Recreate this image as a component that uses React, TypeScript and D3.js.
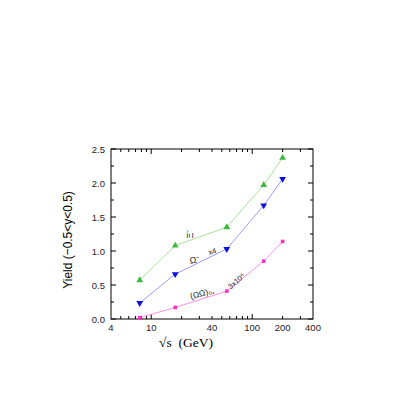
import React, { useEffect, useRef } from "react";
import * as d3 from "d3";

// data
const energies = [7.7, 17.3, 56, 130, 200];
const xiYield = [0.57, 1.08, 1.35, 1.97, 2.37];
const omegaYield = [0.235, 0.66, 1.03, 1.67, 2.06];
const omegaOmegaYield = [0.02, 0.17, 0.41, 0.85, 1.14];

const xTickLabels = [4, 10, 40, 100, 200, 400];
const xMinorTicks = [5, 6, 7, 8, 9, 20, 30, 50, 60, 70, 80, 90, 300];
const yTicks = [0, 0.5, 1, 1.5, 2, 2.5];
const yMinorTicks = [0.25, 0.75, 1.25, 1.75, 2.25];

const App = () => {
  const svgRef = useRef<SVGSVGElement>(null);

  useEffect(() => {
    const width = 402;
    const height = 402;
    const margin = { top: 149, right: 89, bottom: 83, left: 111 };

    const svg = d3.select(svgRef.current);
    svg.selectAll("*").remove();

    const x = d3
      .scaleLog()
      .domain([4, 400])
      .range([margin.left, width - margin.right]);
    const y = d3
      .scaleLinear()
      .domain([0, 2.5])
      .range([height - margin.bottom, margin.top]);

    const x0 = margin.left;
    const x1 = width - margin.right;
    const y0 = height - margin.bottom;
    const y1 = margin.top;

    const sans = "Liberation Sans, Arial, sans-serif";

    // frame
    svg
      .append("rect")
      .attr("x", x0)
      .attr("y", y1)
      .attr("width", x1 - x0)
      .attr("height", y0 - y1)
      .attr("fill", "none")
      .attr("stroke", "#000")
      .attr("stroke-width", 1);

    // ticks, pointing inward on all four sides
    const ticks = svg.append("g").attr("stroke", "#000").attr("stroke-width", 1);
    xTickLabels.concat(xMinorTicks).forEach((v) => {
      const major = v === 10 || v === 100;
      const len = major ? 5 : 3;
      const px = x(v);
      if (v === 4 || v === 400) return;
      ticks.append("line").attr("x1", px).attr("x2", px).attr("y1", y0).attr("y2", y0 - len);
      ticks.append("line").attr("x1", px).attr("x2", px).attr("y1", y1).attr("y2", y1 + len);
    });
    yTicks.concat(yMinorTicks).forEach((v) => {
      const major = yTicks.includes(v);
      const len = major ? 5 : 3;
      const py = y(v);
      ticks.append("line").attr("x1", x0).attr("x2", x0 + len).attr("y1", py).attr("y2", py);
      ticks.append("line").attr("x1", x1).attr("x2", x1 - len).attr("y1", py).attr("y2", py);
    });

    // tick labels
    svg
      .append("g")
      .selectAll("text")
      .data(xTickLabels)
      .enter()
      .append("text")
      .attr("x", (d) => x(d))
      .attr("y", y0 + 12)
      .attr("text-anchor", "middle")
      .attr("font-family", sans)
      .attr("font-size", 9.5)
      .attr("fill", "#222")
      .text((d) => String(d));

    svg
      .append("g")
      .selectAll("text")
      .data(yTicks)
      .enter()
      .append("text")
      .attr("x", x0 - 6)
      .attr("y", (d) => y(d) + 3.5)
      .attr("text-anchor", "end")
      .attr("font-family", sans)
      .attr("font-size", 9.5)
      .attr("fill", "#222")
      .text((d) => d.toFixed(1));

    // axis titles
    svg
      .append("text")
      .attr("x", 186)
      .attr("y", 347)
      .attr("text-anchor", "middle")
      .attr("font-family", "Liberation Serif, Times New Roman, serif")
      .attr("font-size", 13.5)
      .attr("xml:space", "preserve")
      .text("\u221As  (GeV)");

    svg
      .append("text")
      .attr("transform", `translate(72,${(y0 + y1) / 2 + 6}) rotate(-90) scale(0.92,1)`)
      .attr("text-anchor", "middle")
      .attr("font-family", sans)
      .attr("font-size", 13)
      .text("Yield (\u22120.5<y<0.5)");

    const series = [
      { values: xiYield, line: "#a8e29a", mark: "#3cb83c", symbol: d3.symbolTriangle, rot: 0, size: 20 },
      { values: omegaYield, line: "#9a9cff", mark: "#0a10e0", symbol: d3.symbolTriangle, rot: 180, size: 20 },
      { values: omegaOmegaYield, line: "#ff8ee0", mark: "#ff30c8", symbol: d3.symbolSquare, rot: 0, size: 13 },
    ];

    const lineGen = d3
      .line<number>()
      .x((_, i) => x(energies[i]))
      .y((d) => y(d));

    series.forEach((s) => {
      svg
        .append("path")
        .datum(s.values)
        .attr("fill", "none")
        .attr("stroke", s.line)
        .attr("stroke-width", 1)
        .attr("d", lineGen);

      svg
        .append("g")
        .selectAll("path")
        .data(s.values)
        .enter()
        .append("path")
        .attr("d", d3.symbol().type(s.symbol).size(s.size)())
        .attr("transform", (d, i) => `translate(${x(energies[i])},${y(d)}) rotate(${s.rot})`)
        .attr("fill", s.mark);
    });

    // in-plot annotations
    const note = (px: number, py: number, rot: number, size = 8) =>
      svg
        .append("text")
        .attr("transform", `translate(${px},${py}) rotate(${rot})`)
        .attr("text-anchor", "middle")
        .attr("font-family", sans)
        .attr("font-size", size)
        .attr("fill", "#222");

    note(193, 234, -90, 9).text("\u039E\u207B");
    note(195, 263, -10, 9).text("\u03A9\u207B");
    note(213, 254, -15, 7.5).text("x4");
    note(203, 296, -15, 8.5).text("(\u03A9\u03A9)\u2080\u208A");
    note(238, 283, -42, 7.5).text("3x10\u2076");
  }, []);

  return (
    <svg
      ref={svgRef}
      width={402}
      height={402}
      style={{ position: "absolute", left: 0, top: 0, background: "#fff" }}
    />
  );
};

export default App;
